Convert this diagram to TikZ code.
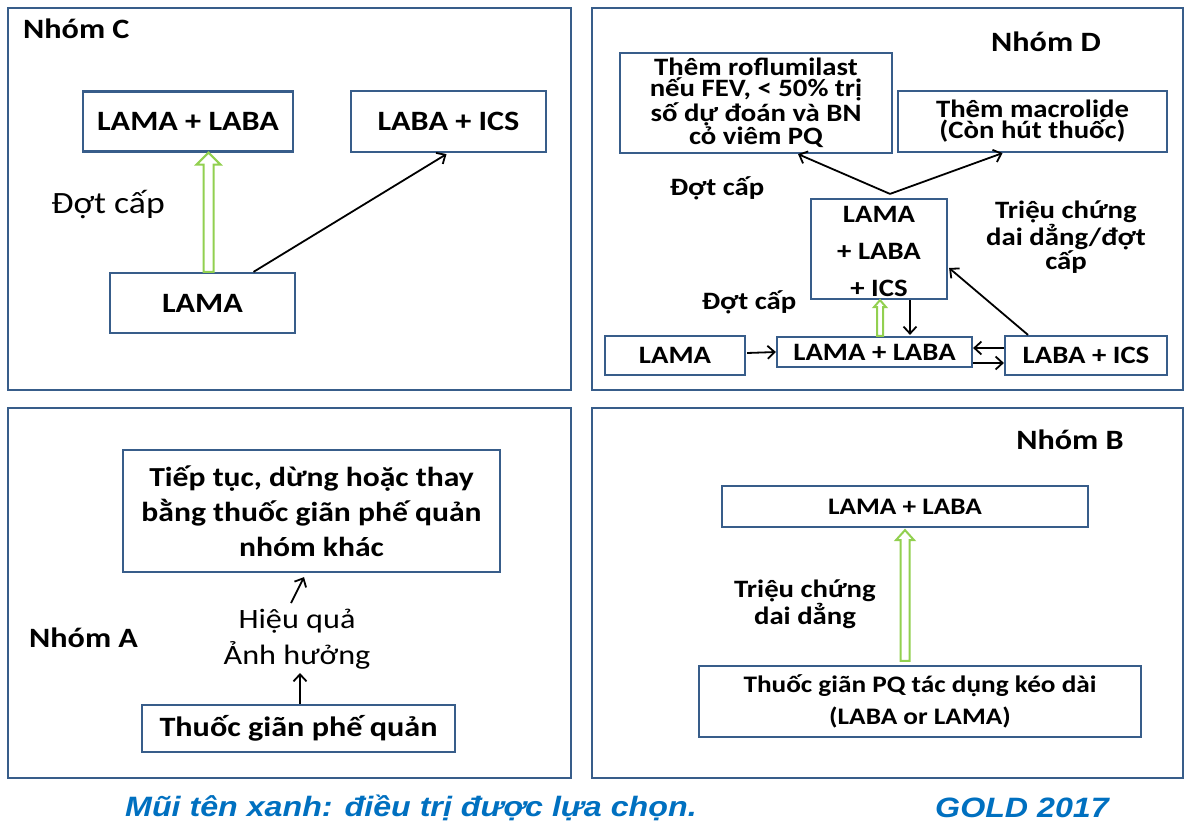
\documentclass[tikz,border=0pt]{standalone}
\usepackage{fontspec}
\setmainfont{Carlito}[FakeStretch=1.15]
\newfontfamily\capfont{Liberation Sans}[FakeStretch=1.15]
\usetikzlibrary{calc,arrows.meta}
\definecolor{pblue}{RGB}{56,93,138}
\definecolor{capblue}{RGB}{0,112,192}
\definecolor{lgreen}{RGB}{146,208,80}
\newcommand\fsz[2]{\fontsize{#1}{#2}\selectfont}
% green hollow upward arrow: start, tip, shaft half width, head half width, head length
\newcommand\greenup[5]{\draw[garrow] let \p1=(#1), \p2=(#2) in
  (\x1-#3pt,\y1) -- (\x1-#3pt,\y2-#5pt) -- (\x1-#4pt,\y2-#5pt) -- (\x1,\y2)
  -- (\x1+#4pt,\y2-#5pt) -- (\x1+#3pt,\y2-#5pt) -- (\x1+#3pt,\y1) -- cycle;}
\tikzset{
  panel/.style={draw=pblue, line width=2.6pt},
  box/.style={draw=pblue, line width=2.2pt, inner sep=0pt, align=center},
  lbl/.style={inner sep=0pt, align=center},
  arr/.style={line width=1.8pt, -{Straight Barb[length=7pt,width=13pt,line width=1.8pt]}},
  garrow/.style={draw=lgreen, line width=2pt, fill=white},
  head/.style={font=\fsz{28}{32}\bfseries},
  fC/.style={font=\fsz{28}{34}\bfseries},
  fD/.style={font=\fsz{25}{21}\bfseries},
  fDb/.style={font=\fsz{25}{37}\bfseries},
  fA/.style={font=\fsz{27.5}{35}\bfseries},
  fB/.style={font=\fsz{23.7}{32}\bfseries},
  capf/.style={font=\capfont\bfseries\itshape\fsz{28}{32}, text=capblue},
}
\begin{document}
\begin{tikzpicture}[x=1pt,y=-1pt]
\fill[white] (0,0) rectangle (1185,827);
\useasboundingbox (0,0) rectangle (1185,827);
% panels
\draw[panel] (8,8) rectangle (571,390);
\draw[panel] (592,8) rectangle (1183,390);
\draw[panel] (8,408) rectangle (571,778);
\draw[panel] (592,408) rectangle (1183,778);

% ---- Nhom C ----
\node[lbl, head, anchor=west] (cT) at (23,29) {Nhóm C};
\node[box, fC, minimum width=210, minimum height=60] (c1) at (188,121.5) {LAMA + LABA};
\node[box, fC, minimum width=195, minimum height=61] (c2) at (448.5,121.5) {LABA + ICS};
\node[box, fC, minimum width=185, minimum height=60] (c3) at (202.5,303) {LAMA};
\node[lbl, font=\fsz{31}{36}] (cL) at (108,205) {Đợt cấp};
\greenup{$(c3.north)+(6,0)$}{$(c1.south)+(21,0)$}{5}{12}{12}
\draw[arr] ($(c3.north)+(51,0)$) -- ($(c2.south)+(-2,1)$);

% ---- Nhom D ----
\node[lbl, head] (dT) at (1046,42) {Nhóm D};
\node[box, fD, minimum width=272, minimum height=100] (d1) at (756,103) {Thêm roflumilast\\nếu FEV, < 50\% trị\\số dự đoán và BN\\cỏ viêm PQ};
\node[box, fD, minimum width=269, minimum height=61] (d2) at (1032.5,121.5) {Thêm macrolide\\(Còn hút thuốc)};
\node[lbl, fD] (dL1) at (717,188) {Đợt cấp};
\node[box, fDb, minimum width=136, minimum height=100] (d3) at (879,249) {};
\node[lbl, fDb] (d3t) at (879,251) {LAMA\\+ LABA\\+ ICS};
\node[lbl, fD] (dL2) at (1066,237) {Triệu chứng\\dai dẳng/đợt\\cấp};
\node[lbl, fD] (dL3) at (749,302) {Đợt cấp};
\node[box, fDb, minimum width=140, minimum height=39] (d5) at (675,355.5) {LAMA};
\node[box, fDb, minimum width=195, minimum height=30] (d4) at (874.5,352) {LAMA + LABA};
\node[box, fDb, minimum width=162, minimum height=39] (d6) at (1086,355.5) {LABA + ICS};
\draw[arr] ($(d3.north)+(11,-4)$) -- ($(d1.south)+(42,0)$);
\draw[arr] ($(d3.north)+(11,-4)$) -- ($(d2.south)+(-30,0)$);
\greenup{$(d4.north)+(5.5,0)$}{d3.south}{3}{6}{7}
\draw[arr] ($(d3.south)+(31,0)$) -- ($(d4.north)+(35.5,-1)$);
\draw[arr] ($(d5.east)+(1,-2.5)$) -- (d4.west);
\draw[arr] ($(d6.west)+(0,-7.5)$) -- ($(d4.east)+(0,-4)$);
\draw[arr] ($(d4.east)+(0,11)$) -- ($(d6.west)+(0,7.5)$);
\draw[arr] ($(d6.north)+(-58,0)$) -- ($(d3.east)+(1,19)$);

% ---- Nhom A ----
\node[box, fA, minimum width=377, minimum height=122] (a1) at (311.5,511) {Tiếp tục, dừng hoặc thay\\bằng thuốc giãn phế quản\\nhóm khác};
\node[lbl, font=\fsz{28}{36}] (a2) at (297,639) {Hiệu quả\\Ảnh hưởng};
\node[box, font=\fsz{28}{34}\bfseries, minimum width=313, minimum height=47] (a3) at (298.5,728.5) {Thuốc giãn phế quản};
\node[lbl, head, anchor=west] (aT) at (29,638) {Nhóm A};
\coordinate (a2top) at (291,603);
\coordinate (a2bot) at (300,673);
\draw[arr] (a2top) -- ($(a1.south)+(-7.5,4)$);
\draw[arr] ($(a3.north)+(1.5,0)$) -- (a2bot);

% ---- Nhom B ----
\node[lbl, head] (bT) at (1070,440) {Nhóm B};
\node[box, fB, minimum width=366, minimum height=41] (b1) at (905,506.5) {LAMA + LABA};
\node[box, fB, minimum width=442, minimum height=71] (b2) at (920,701.5) {Thuốc giãn PQ tác dụng kéo dài\\(LABA or LAMA)};
\node[lbl, font=\fsz{25}{22}\bfseries] (bL) at (805,604) {Triệu chứng\\dai dẳng};
\greenup{$(b2.north)+(-15,-4)$}{$(b1.south)+(0,2)$}{4.5}{9}{10}

% ---- caption ----
\node[lbl, capf, anchor=west] (cap1) at (125,808) {Mũi tên xanh: điều trị được lựa chọn.};
\node[lbl, capf, anchor=west] (cap2) at (935,808) {GOLD 2017};
\end{tikzpicture}
\end{document}
